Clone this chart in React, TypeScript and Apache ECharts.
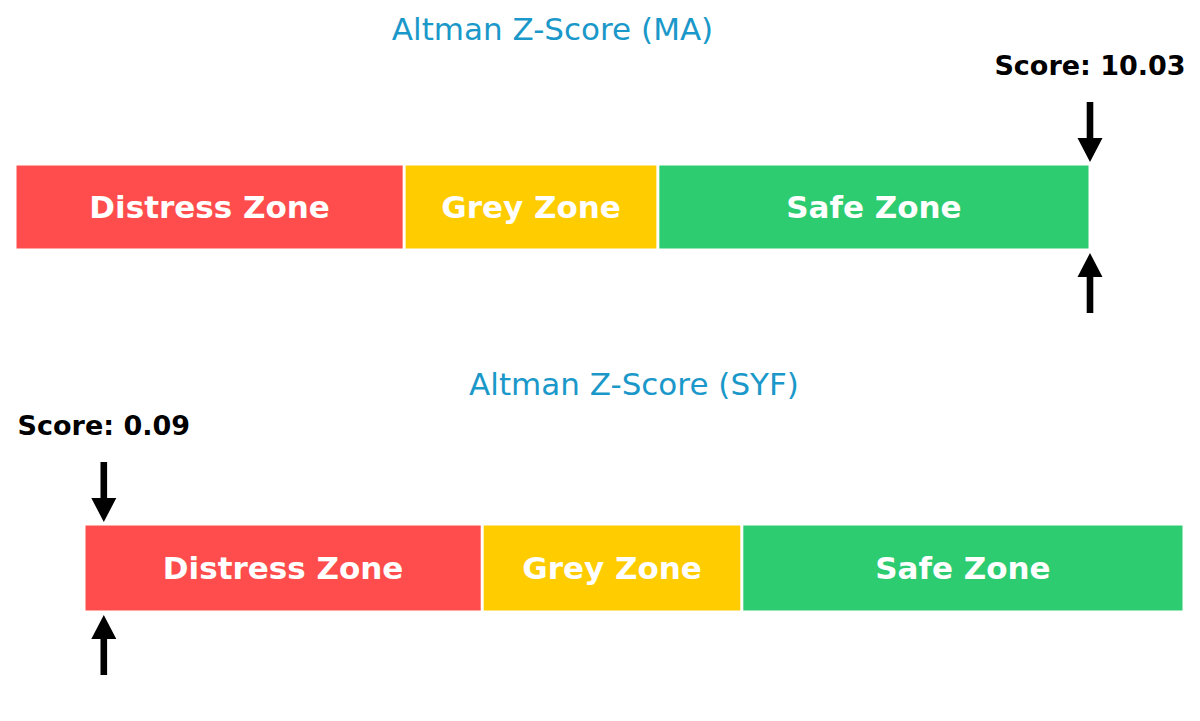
import { useRef, useEffect } from 'react';
import * as echarts from 'echarts';

// --- Data ---
const companies = ['MA', 'SYF'];
const scores = [10.03, 0.09];
const zoneNames = ['Distress Zone', 'Grey Zone', 'Safe Zone'];
const zoneEdges = [0, 1.81, 2.99, 5]; // zone boundaries on the score axis
const zoneColors = ['#FF4D4D', '#FFCC00', '#2ECC71'];

const FONT = '"DejaVu Sans", Verdana, sans-serif';

// pixel boxes of the two panels (left, right edge, top, height)
const panels = [
  { left: 15, right: 1090, top: 164, height: 86 },
  { left: 84, right: 1184, top: 524, height: 88 },
];

function arrowPoints(x: number, tip: number, dir: 1 | -1) {
  // dir 1 = pointing down, -1 = pointing up
  const len = 60, head = 24, sw = 3.3, hw = 12.5;
  const base = tip - dir * len;
  const neck = tip - dir * head;
  return [
    [x - sw, base], [x + sw, base], [x + sw, neck], [x + hw, neck],
    [x, tip], [x - hw, neck], [x - sw, neck],
  ];
}

export default function App() {
  const ref = useRef<HTMLDivElement>(null);

  useEffect(() => {
    document.body.style.margin = '0';
    if (!ref.current) return;
    const chart = echarts.init(ref.current, null, { renderer: 'svg' });
    const axisMax = zoneEdges[zoneEdges.length - 1];

    const grid = panels.map((p) => ({
      left: p.left,
      right: 1200 - p.right,
      top: p.top,
      height: p.height,
      containLabel: false,
    }));

    const xAxis = panels.map((_, i) => ({
      type: 'value' as const,
      gridIndex: i,
      min: 0,
      max: axisMax,
      show: false,
    }));

    const yAxis = panels.map((_, i) => ({
      type: 'category' as const,
      gridIndex: i,
      data: [companies[i]],
      show: false,
    }));

    const series: any[] = [];
    companies.forEach((_, i) => {
      zoneNames.forEach((name, z) => {
        series.push({
          type: 'bar',
          name,
          xAxisIndex: i,
          yAxisIndex: i,
          stack: 'zones' + i,
          barWidth: '100%',
          data: [zoneEdges[z + 1] - zoneEdges[z]],
          itemStyle: { color: zoneColors[z], borderColor: '#ffffff', borderWidth: 1.5 },
          label: {
            show: true,
            position: 'inside',
            formatter: name,
            color: '#ffffff',
            fontFamily: FONT,
            fontWeight: 'bold',
            fontSize: 31,
          },
          silent: true,
        });
      });
      series.push({
        type: 'custom',
        xAxisIndex: i,
        yAxisIndex: i,
        data: [[Math.min(scores[i], axisMax), 0, scores[i]]],
        renderItem: (_params: any, api: any) => {
          const c = api.coord([api.value(0), 0]);
          const band = api.size([0, 1])[1];
          const top = c[1] - band / 2;
          const bottom = c[1] + band / 2;
          const x = c[0];
          return {
            type: 'group',
            children: [
              { type: 'polygon', shape: { points: arrowPoints(x, top - 2, 1) }, style: { fill: '#000' } },
              { type: 'polygon', shape: { points: arrowPoints(x, bottom + 3, -1) }, style: { fill: '#000' } },
              {
                type: 'text',
                style: {
                  text: 'Score: ' + Number(api.value(2)).toFixed(2),
                  x,
                  y: top - 99,
                  align: 'center',
                  verticalAlign: 'middle',
                  font: `bold 27px ${FONT}`,
                  fill: '#000',
                },
              },
            ],
          };
        },
        silent: true,
      });
    });

    const title = companies.map((c, i) => ({
      text: `Altman Z-Score (${c})`,
      left: (panels[i].left + panels[i].right) / 2 - 5,
      top: i === 0 ? 8 : 363,
      textAlign: 'center' as const,
      textStyle: { color: '#1A98C9', fontFamily: FONT, fontWeight: 'normal' as const, fontSize: 31 },
    }));

    chart.setOption({ animation: false, title, grid, xAxis, yAxis, series });
    return () => chart.dispose();
  }, []);

  return <div ref={ref} style={{ width: 1200, height: 721 }} />;
}
